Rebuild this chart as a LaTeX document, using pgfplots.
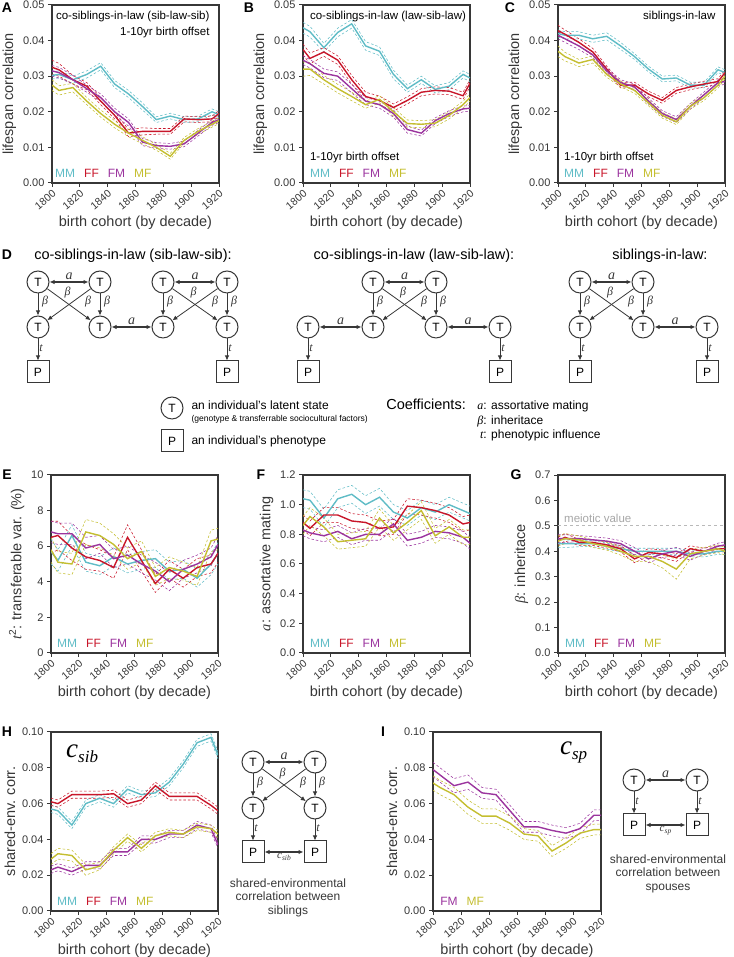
\documentclass[border=0pt]{standalone}
\usepackage{fontspec}
\setmainfont{Liberation Sans}
\newfontfamily\tms{Liberation Serif}
\usepackage{pgfplots}
\pgfplotsset{compat=1.18}
\usepackage{pgfplotstable}
\usetikzlibrary{arrows.meta,calc}

\definecolor{mmc}{RGB}{95,188,198}
\definecolor{ffc}{RGB}{200,22,42}
\definecolor{fmc}{RGB}{155,52,158}
\definecolor{mfc}{RGB}{196,190,48}
\definecolor{axc}{RGB}{55,55,55}

\newcommand\fs[1]{\fontsize{#1}{#1}\selectfont}
\newcommand\mi[1]{{\tms\itshape #1}}
\newcommand\leg{{\color{mmc}MM}\hspace{9pt}{\color{ffc}FF}\hspace{9pt}{\color{fmc}FM}\hspace{9pt}{\color{mfc}MF}}

% series: main line and dashed interval lines
\newcommand\mln[3]{\addplot[#3, line width=1.4pt] table[x=x, y=#2] {#1};}
\newcommand\cib[3]{%
  \addplot[#3, line width=0.55pt, dash pattern=on 2.5pt off 2pt] table[x=x, y expr=\thisrow{#2}+\thisrow{e#2}] {#1};
  \addplot[#3, line width=0.55pt, dash pattern=on 2.5pt off 2pt] table[x=x, y expr=\thisrow{#2}-\thisrow{e#2}] {#1};}
\newcommand\four[1]{%
  \cib{#1}{MM}{mmc}\cib{#1}{FF}{ffc}\cib{#1}{FM}{fmc}\cib{#1}{MF}{mfc}
  \mln{#1}{MM}{mmc}\mln{#1}{FF}{ffc}\mln{#1}{FM}{fmc}\mln{#1}{MF}{mfc}}

\pgfplotstableread{
x    MM    eMM   FF    eFF   FM    eFM   MF    eMF
1800 .0302 .0010 .0325 .0020 .0315 .0015 .0275 .0015
1805 .0305 .0010 .0318 .0018 .0310 .0015 .0260 .0013
1815 .0290 .0010 .0290 .0012 .0290 .0012 .0268 .0012
1825 .0305 .0010 .0272 .0010 .0265 .0010 .0230 .0010
1835 .0328 .0010 .0230 .0010 .0240 .0010 .0195 .0010
1845 .0278 .0010 .0190 .0010 .0200 .0010 .0165 .0010
1855 .0250 .0010 .0140 .0010 .0170 .0010 .0140 .0010
1865 .0215 .0010 .0145 .0010 .0115 .0010 .0120 .0010
1875 .0178 .0008 .0145 .0008 .0105 .0008 .0100 .0008
1885 .0188 .0008 .0145 .0008 .0103 .0008 .0075 .0008
1895 .0178 .0008 .0180 .0008 .0110 .0008 .0120 .0008
1905 .0180 .0008 .0178 .0008 .0140 .0008 .0145 .0008
1915 .0200 .0008 .0180 .0008 .0170 .0008 .0165 .0008
1920 .0192 .0008 .0195 .0008 .0178 .0008 .0175 .0008
}\tA
\pgfplotstableread{
x    MM    eMM   FF    eFF   FM    eFM   MF    eMF
1800 .0436 .0015 .0375 .0015 .0345 .0012 .0320 .0020
1805 .0425 .0015 .0350 .0015 .0335 .0012 .0320 .0018
1815 .0380 .0012 .0368 .0012 .0308 .0012 .0290 .0012
1825 .0423 .0012 .0345 .0012 .0300 .0012 .0265 .0012
1835 .0447 .0012 .0290 .0012 .0265 .0012 .0243 .0012
1845 .0385 .0012 .0243 .0012 .0230 .0010 .0220 .0010
1855 .0370 .0012 .0232 .0012 .0220 .0010 .0235 .0010
1865 .0305 .0012 .0212 .0010 .0195 .0010 .0200 .0012
1875 .0265 .0010 .0232 .0010 .0150 .0010 .0167 .0010
1885 .0290 .0010 .0255 .0010 .0140 .0008 .0165 .0010
1895 .0263 .0010 .0260 .0010 .0175 .0008 .0168 .0010
1905 .0272 .0010 .0258 .0010 .0195 .0008 .0190 .0010
1915 .0305 .0010 .0245 .0010 .0208 .0008 .0220 .0010
1920 .0295 .0010 .0280 .0010 .0210 .0008 .0240 .0010
}\tB
\pgfplotstableread{
x    MM    eMM   FF    eFF   FM    eFM   MF    eMF
1800 .0420 .0010 .0428 .0015 .0415 .0010 .0370 .0015
1805 .0415 .0010 .0418 .0012 .0405 .0010 .0355 .0012
1815 .0415 .0010 .0395 .0010 .0385 .0010 .0337 .0010
1825 .0405 .0010 .0368 .0010 .0360 .0008 .0347 .0010
1835 .0412 .0010 .0320 .0008 .0315 .0008 .0305 .0008
1845 .0385 .0010 .0275 .0008 .0282 .0008 .0278 .0008
1855 .0355 .0008 .0275 .0008 .0270 .0008 .0260 .0008
1865 .0320 .0008 .0250 .0008 .0230 .0008 .0225 .0008
1875 .0292 .0008 .0232 .0008 .0195 .0008 .0190 .0008
1885 .0295 .0008 .0260 .0008 .0178 .0008 .0172 .0008
1895 .0275 .0008 .0270 .0008 .0215 .0008 .0215 .0008
1905 .0275 .0008 .0278 .0008 .0248 .0008 .0240 .0008
1915 .0318 .0008 .0285 .0008 .0282 .0008 .0275 .0008
1920 .0310 .0008 .0310 .0008 .0285 .0008 .0300 .0008
}\tC
\pgfplotstableread{
x    MM  eMM FF  eFF FM  eFM MF  eMF
1800 5.7 0.7 6.5 0.9 6.8 0.6 5.8 0.7
1805 5.2 0.6 6.6 0.8 6.7 0.6 5.1 0.6
1815 6.6 0.6 5.9 0.7 6.7 0.6 5.0 0.6
1825 5.1 0.5 5.4 0.7 5.9 0.6 6.8 0.7
1835 4.9 0.5 5.2 0.6 6.1 0.5 6.6 0.7
1845 5.4 0.5 4.8 0.6 5.3 0.5 6.1 0.6
1855 5.0 0.5 6.5 0.7 5.5 0.5 5.3 0.6
1865 5.2 0.5 5.2 0.6 5.0 0.5 5.7 0.6
1875 5.3 0.5 3.9 0.5 4.6 0.5 4.3 0.5
1885 4.6 0.5 4.7 0.5 4.0 0.5 4.8 0.6
1895 4.7 0.5 4.2 0.5 4.7 0.5 4.6 0.5
1905 4.2 0.5 4.8 0.5 5.0 0.5 4.3 0.5
1915 5.0 0.6 5.0 0.5 5.4 0.5 6.3 0.6
1920 5.6 0.6 5.6 0.5 6.1 0.5 6.4 0.6
}\tE
\pgfplotstableread{
x    MM   eMM FF   eFF FM   eFM MF   eMF
1800 1.04 .06 0.88 .05 0.83 .04 0.86 .06
1805 1.03 .06 0.84 .05 0.81 .04 0.92 .06
1815 0.91 .06 0.93 .05 0.79 .04 0.85 .06
1825 1.04 .06 0.93 .05 0.82 .04 0.75 .05
1835 1.07 .06 0.89 .05 0.77 .04 0.76 .05
1845 1.00 .06 0.88 .05 0.80 .04 0.77 .05
1855 1.05 .06 0.84 .05 0.80 .04 0.91 .06
1865 0.95 .05 0.85 .05 0.87 .04 0.81 .05
1875 0.91 .05 0.99 .05 0.76 .04 0.88 .05
1885 0.98 .05 0.98 .05 0.78 .04 0.96 .06
1895 0.95 .05 0.96 .05 0.82 .04 0.79 .05
1905 1.00 .05 0.93 .05 0.81 .04 0.85 .05
1915 0.96 .05 0.87 .05 0.78 .04 0.78 .05
1920 0.94 .05 0.88 .05 0.74 .04 0.78 .05
}\tF
\pgfplotstableread{
x    MM    eMM  FF    eFF  FM    eFM  MF    eMF
1800 0.430 .015 0.440 .015 0.450 .015 0.440 .020
1805 0.430 .015 0.455 .015 0.450 .015 0.450 .020
1815 0.430 .012 0.435 .012 0.450 .012 0.445 .015
1825 0.430 .012 0.435 .012 0.445 .012 0.430 .015
1835 0.420 .012 0.425 .012 0.440 .012 0.420 .015
1845 0.410 .012 0.410 .012 0.430 .012 0.400 .015
1855 0.400 .012 0.370 .015 0.400 .015 0.380 .020
1865 0.400 .012 0.395 .015 0.370 .015 0.380 .020
1875 0.400 .012 0.390 .015 0.390 .015 0.360 .025
1885 0.400 .012 0.375 .015 0.400 .015 0.330 .040
1895 0.390 .012 0.410 .012 0.380 .015 0.390 .020
1905 0.390 .012 0.400 .012 0.400 .012 0.400 .015
1915 0.400 .012 0.410 .012 0.420 .012 0.410 .015
1920 0.400 .012 0.410 .012 0.425 .012 0.400 .015
}\tG
\pgfplotstableread{
x    MM   eMM  FF    eFF  FM    eFM  MF   eMF
1800 .057 .002 .061  .002 .023  .002 .029 .003
1805 .056 .002 .060  .002 .0245 .002 .032 .003
1815 .048 .002 .065  .002 .022  .002 .031 .003
1825 .060 .002 .065  .002 .0255 .002 .023 .003
1835 .063 .002 .065  .002 .0255 .002 .025 .002
1845 .060 .002 .0655 .002 .033  .002 .034 .002
1855 .068 .002 .060  .002 .033  .002 .041 .002
1865 .065 .002 .062  .002 .040  .002 .035 .002
1875 .066 .002 .070  .002 .040  .002 .042 .002
1885 .072 .002 .064  .002 .043  .002 .044 .002
1895 .082 .002 .064  .002 .043  .002 .043 .002
1905 .094 .002 .064  .002 .048  .002 .047 .002
1915 .097 .002 .059  .002 .046  .002 .046 .002
1920 .087 .002 .056  .002 .037  .002 .043 .002
}\tH
\pgfplotstableread{
x    FM    eFM  MF    eMF
1800 .079  .004 .0715 .004
1805 .076  .004 .069  .004
1815 .070  .004 .065  .004
1825 .072  .004 .058  .004
1835 .066  .003 .053  .004
1845 .065  .003 .053  .004
1855 .056  .003 .049  .004
1865 .047  .003 .043  .003
1875 .047  .003 .042  .003
1885 .045  .003 .0335 .003
1895 .0435 .003 .038  .003
1905 .046  .003 .0435 .003
1915 .0535 .003 .0455 .003
1920 .0535 .003 .0455 .003
}\tI

\pgfplotsset{
  panel/.style={
    scale only axis, width=167pt, height=178pt, anchor=south west,
    xmin=1800, xmax=1920, xtick={1800,1820,1840,1860,1880,1900,1920},
    axis line style={axc, line width=1.3pt},
    tick style={axc, line width=1pt}, major tick length=4pt,
    tick align=outside, xtick pos=bottom, ytick pos=left,
    scaled y ticks=false,
    x tick label style={rotate=40, anchor=north east, font=\fs{10.5}, inner sep=1.5pt, text=axc},
    y tick label style={font=\fs{11}, text=axc},
    /pgf/number format/1000 sep={},
    /pgf/number format/assume math mode=true,
    xlabel={birth cohort (by decade)},
    label style={font=\fs{14.5}, text=axc},
  },
  yp/.style={yticklabel style={/pgf/number format/fixed, /pgf/number format/fixed zerofill, /pgf/number format/precision=#1}},
  corr/.style={ymin=0, ymax=0.05, ytick={0,0.01,0.02,0.03,0.04,0.05}, yp=2, ylabel={lifespan correlation}},
}

\tikzset{
  Tn/.style={circle, draw=axc, line width=1pt, minimum size=22pt, inner sep=0pt, font=\fs{12}, fill=white},
  Pn/.style={rectangle, draw=axc, line width=1pt, minimum size=22pt, inner sep=0pt, font=\fs{12}, fill=white},
  ar/.style={draw=axc, line width=0.8pt, -{Latex[length=5pt,width=4.5pt]}},
  aa/.style={draw=axc, line width=1.2pt, {Latex[length=5pt,width=4.5pt]}-{Latex[length=5pt,width=4.5pt]}},
  lb/.style={font=\fs{12}\tms\itshape, text=axc, inner sep=1pt},
  la/.style={font=\fs{14}\tms\itshape, text=axc, inner sep=1pt, above=1pt},
  pl/.style={font=\fs{14}\bfseries, anchor=center},
}

% two parents, two children, inheritance arrows
\newcommand\blk[5]{%
  \node[Tn] (#1a) at (#2,#4) {T};
  \node[Tn] (#1b) at (#3,#4) {T};
  \node[Tn] (#1c) at (#2,#5) {T};
  \node[Tn] (#1d) at (#3,#5) {T};
  \draw[aa] (#1a) -- node[la] {a} (#1b);
  \draw[ar] (#1a) -- (#1c);
  \draw[ar] (#1b) -- (#1d);
  \draw[ar] (#1a) -- (#1d);
  \draw[ar] (#1b) -- (#1c);
  \node[lb] at ($(#1a)!0.44!(#1c)+(7,0)$) {β};
  \node[lb] at ($(#1a)!0.5!(#1d)+(-1.5,-11.5)$) {β};
  \node[lb] at ($(#1b)!0.44!(#1d)+(-12,0)$) {β};
  \node[lb] at ($(#1b)!0.44!(#1d)+(7,0)$) {β};
}

\begin{document}
\begin{tikzpicture}
\path[use as bounding box] (0,0) rectangle (733pt,957pt);

% ---- row 1
\begin{axis}[panel, corr, at={(52pt,774pt)}]
\four{\tA}
\node[anchor=base east, font=\fs{11.5}] at (rel axis cs:0.964,0.921) {co-siblings-in-law (sib-law-sib)};
\node[anchor=base east, font=\fs{11.5}] at (rel axis cs:0.964,0.831) {1-10yr birth offset};
\node[anchor=base west, font=\fs{12}, inner sep=0pt] at (rel axis cs:0.018,0.03) {\leg};
\end{axis}

\begin{axis}[panel, corr, at={(303pt,774pt)}]
\four{\tB}
\node[anchor=base west, font=\fs{11.5}, inner sep=0pt] at (rel axis cs:0.041,0.921) {co-siblings-in-law (law-sib-law)};
\node[anchor=base west, font=\fs{11.5}, inner sep=0pt] at (rel axis cs:0.041,0.124) {1-10yr birth offset};
\node[anchor=base west, font=\fs{12}, inner sep=0pt] at (rel axis cs:0.041,0.03) {\leg};
\end{axis}

\begin{axis}[panel, corr, at={(558pt,774pt)}]
\four{\tC}
\node[anchor=base east, font=\fs{11.5}] at (rel axis cs:0.964,0.921) {siblings-in-law};
\node[anchor=base west, font=\fs{11.5}, inner sep=0pt] at (rel axis cs:0.036,0.124) {1-10yr birth offset};
\node[anchor=base west, font=\fs{12}, inner sep=0pt] at (rel axis cs:0.036,0.03) {\leg};
\end{axis}

% ---- row 3
\begin{axis}[panel, at={(51pt,304pt)}, ymin=0, ymax=10, ytick={0,2,4,6,8,10},
  ylabel={\mi{t}\textsuperscript{2}: transferable var. (\%)}]
\four{\tE}
\node[anchor=base west, font=\fs{12}, inner sep=0pt] at (rel axis cs:0.036,0.03) {\leg};
\end{axis}

\begin{axis}[panel, at={(303pt,304pt)}, ymin=0, ymax=1.2, ytick={0,0.2,0.4,0.6,0.8,1.0,1.2}, yp=1,
  ylabel={\mi{a}: assortative mating}]
\four{\tF}
\node[anchor=base west, font=\fs{12}, inner sep=0pt] at (rel axis cs:0.041,0.03) {\leg};
\end{axis}

\begin{axis}[panel, at={(558pt,304pt)}, ymin=0, ymax=0.7, ytick={0,0.1,0.2,0.3,0.4,0.5,0.6,0.7}, yp=1,
  ylabel={\mi{β}: inheritace}]
\addplot[gray!55, line width=1pt, dash pattern=on 3pt off 3pt] coordinates {(1800,0.5) (1920,0.5)};
\four{\tG}
\node[anchor=base west, font=\fs{11.5}, text=gray!70, inner sep=0pt] at (rel axis cs:0.036,0.735) {meiotic value};
\node[anchor=base west, font=\fs{12}, inner sep=0pt] at (rel axis cs:0.041,0.03) {\leg};
\end{axis}

% ---- row 4
\begin{axis}[panel, height=179pt, at={(51pt,46pt)}, ymin=0, ymax=0.1,
  ytick={0,0.02,0.04,0.06,0.08,0.1}, yp=2, ylabel={shared-env. corr.}]
\four{\tH}
\node[anchor=west, inner sep=0pt] at (rel axis cs:0.09,0.88) {{\fs{27}\tms\itshape c}{\fs{17}\tms\itshape\raisebox{-5pt}{sib}}};
\node[anchor=base west, font=\fs{12}, inner sep=0pt] at (rel axis cs:0.036,0.028) {\leg};
\end{axis}

\begin{axis}[panel, width=168pt, height=179pt, at={(433pt,46pt)}, ymin=0, ymax=0.1,
  ytick={0,0.02,0.04,0.06,0.08,0.1}, yp=2, ylabel={shared-env. corr.}]
\cib{\tI}{FM}{fmc}\cib{\tI}{MF}{mfc}
\mln{\tI}{FM}{fmc}\mln{\tI}{MF}{mfc}
\node[anchor=west, inner sep=0pt] at (rel axis cs:0.755,0.885) {{\fs{27}\tms\itshape c}{\fs{17}\tms\itshape\raisebox{-5pt}{sp}}};
\node[anchor=base west, font=\fs{12}, inner sep=0pt] at (rel axis cs:0.042,0.028) {{\color{fmc}FM}\hspace{9pt}{\color{mfc}MF}};
\end{axis}

% ---- diagrams and panel letters (pixel coordinates, y down)
\begin{scope}[x=1pt, y=-1pt, shift={(0pt,957pt)}]
\node[pl] at (7,8) {A};
\node[pl] at (249,8) {B};
\node[pl] at (510,8) {C};
\node[pl] at (7,255) {D};
\node[pl] at (7,475) {E};
\node[pl] at (261,475) {F};
\node[pl] at (516,475) {G};
\node[pl] at (7,732) {H};
\node[pl] at (383,732) {I};

% D: sib-law-sib
\node[font=\fs{14.5}] at (133,256) {co-siblings-in-law (sib-law-sib):};
\blk{p}{38}{100}{282}{327}
\blk{q}{163}{227}{282}{327}
\draw[aa] (pd) -- node[la] {a} (qc);
\node[Pn] (p1) at (38,372) {P};
\node[Pn] (p2) at (227,372) {P};
\draw[ar] (pc) -- node[lb, right, pos=0.45] {t} (p1);
\draw[ar] (qd) -- node[lb, right, pos=0.45] {t} (p2);

% D: law-sib-law
\node[font=\fs{14.5}] at (414,256) {co-siblings-in-law (law-sib-law):};
\blk{r}{373}{436}{282}{327}
\node[Tn] (r0) at (308,327) {T};
\node[Tn] (r5) at (500,327) {T};
\draw[aa] (r0) -- node[la] {a} (rc);
\draw[aa] (rd) -- node[la] {a} (r5);
\node[Pn] (r1) at (308,372) {P};
\node[Pn] (r2) at (500,372) {P};
\draw[ar] (r0) -- node[lb, right, pos=0.45] {t} (r1);
\draw[ar] (r5) -- node[lb, right, pos=0.45] {t} (r2);

% D: siblings-in-law
\node[font=\fs{14.5}] at (660,256) {siblings-in-law:};
\blk{s}{580}{643}{282}{327}
\node[Tn] (s5) at (707,327) {T};
\draw[aa] (sd) -- node[la] {a} (s5);
\node[Pn] (s1) at (580,372) {P};
\node[Pn] (s2) at (707,372) {P};
\draw[ar] (sc) -- node[lb, right, pos=0.45] {t} (s1);
\draw[ar] (s5) -- node[lb, right, pos=0.45] {t} (s2);

% D: key
\node[Tn] at (172,408) {T};
\node[anchor=base west, font=\fs{12}] at (188,410) {an individual's latent state};
\node[anchor=base west, font=\fs{8.5}] at (188,422) {(genotype \& transferrable sociocultural factors)};
\node[Pn] at (172,441) {P};
\node[anchor=base west, font=\fs{12}] at (188,445) {an individual's phenotype};
\node[anchor=base east, font=\fs{14.5}, inner sep=0pt] at (466,410) {Coefficients:};
\node[anchor=base east, font=\fs{12}, inner sep=0pt] at (487,410) {\mi{a}:};
\node[anchor=base east, font=\fs{12}, inner sep=0pt] at (487,424.5) {\mi{β}:};
\node[anchor=base east, font=\fs{12}, inner sep=0pt] at (487,439) {\mi{t}:};
\node[anchor=base west, font=\fs{12}, inner sep=0pt] at (491,410) {assortative mating};
\node[anchor=base west, font=\fs{12}, inner sep=0pt] at (491,424.5) {inheritace};
\node[anchor=base west, font=\fs{12}, inner sep=0pt] at (491,439) {phenotypic influence};

% H diagram
\blk{h}{253}{315}{762}{808}
\node[Pn] (h1) at (253,852) {P};
\node[Pn] (h2) at (315,852) {P};
\draw[ar] (hc) -- node[lb, right, pos=0.42] {t} (h1);
\draw[ar] (hd) -- node[lb, right, pos=0.42] {t} (h2);
\draw[aa] (h1) -- node[below=1pt, inner sep=0pt, text=axc] {{\fs{11}\tms\itshape c}{\fs{7.5}\tms\itshape\raisebox{-2pt}{sib}}} (h2);
\node[anchor=north, align=center, font=\fontsize{12}{13.5}\selectfont, text=axc] at (288,875) {shared-environmental\\correlation between\\siblings};

% I diagram
\node[Tn] (i1) at (634,780) {T};
\node[Tn] (i2) at (697,780) {T};
\node[Pn] (i3) at (634,825) {P};
\node[Pn] (i4) at (697,825) {P};
\draw[aa] (i1) -- node[la] {a} (i2);
\draw[ar] (i1) -- node[lb, right, pos=0.42] {t} (i3);
\draw[ar] (i2) -- node[lb, right, pos=0.42] {t} (i4);
\draw[aa] (i3) -- node[below=1pt, inner sep=0pt, text=axc] {{\fs{11}\tms\itshape c}{\fs{7.5}\tms\itshape\raisebox{-2pt}{sp}}} (i4);
\node[anchor=north, align=center, font=\fontsize{12}{13.5}\selectfont, text=axc] at (668,851) {shared-environmental\\correlation between\\spouses};
\end{scope}
\end{tikzpicture}
\end{document}
